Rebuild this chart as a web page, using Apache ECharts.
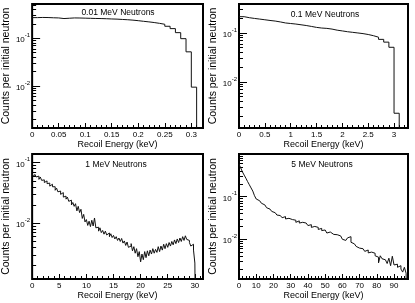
<!DOCTYPE html>
<html><head><meta charset="utf-8">
<script src="https://cdn.jsdelivr.net/npm/echarts@6/dist/echarts.min.js"></script>
<style>html,body{margin:0;padding:0;background:#fff}#c{width:415px;height:303px}</style>
</head><body><div id="c"></div>
<script>
// ---------------- data ----------------
const panelTitles = ['0.01 MeV Neutrons', '0.1 MeV Neutrons', '1 MeV Neutrons', '5 MeV Neutrons'];
const xTitle = 'Recoil Energy (keV)';
const yTitle = 'Counts per initial neutron';

// 0.01 MeV: bins of 0.01 keV starting at 0
const binWidth1 = 0.01;
const counts1 = [0.270,0.272,0.271,0.268,0.266,0.258,0.262,0.266,0.265,0.263,
  0.261,0.259,0.258,0.256,0.253,0.251,0.247,0.244,0.239,0.233,
  0.226,0.220,0.213,0.205,0.196,0.178,0.159,0.131,0.098,0.052,0.0095];

// 0.1 MeV: bins of 0.1 keV starting at 0
const binWidth2 = 0.1;
const counts2 = [0.215,0.205,0.198,0.192,0.186,0.180,0.175,0.168,0.160,0.156,
  0.152,0.147,0.142,0.136,0.130,0.126,0.124,0.120,0.114,0.110,
  0.106,0.103,0.100,0.097,0.093,0.088,0.082,0.074,0.065,0.051,0.0023];

// 1 MeV: bins of 0.25 keV starting at 0
const binWidth3 = 0.25;
const counts3 = [0.066,0.059,0.064,0.058, 0.060,0.053,0.058,0.051, 0.052,0.047,0.050,0.045,
  0.046,0.041,0.044,0.040, 0.040,0.035,0.038,0.033, 0.034,0.030,0.032,0.027,
  0.028,0.025,0.027,0.023, 0.024,0.020,0.022,0.019, 0.021,0.016,0.019,0.015,
  0.017,0.012,0.014,0.0105, 0.0115,0.0092,0.0108,0.0088, 0.0112,0.0090,0.0122,0.0084,
  0.0086,0.0074,0.0084,0.0070, 0.0076,0.0066,0.0074,0.0064, 0.0069,0.0060,0.0067,0.0058,
  0.0063,0.0055,0.0060,0.0052, 0.0057,0.0050,0.0056,0.0047, 0.0051,0.0043,0.0049,0.0040,
  0.0042,0.0046,0.0035,0.0041, 0.0032,0.0038,0.0028,0.0034, 0.0023,0.0031,0.0025,0.0034,
  0.0027,0.0035,0.0029,0.0036, 0.0031,0.0038,0.0032,0.0037, 0.0033,0.0041,0.0034,0.0042,
  0.0036,0.0045,0.0038,0.0046, 0.0040,0.0048,0.0042,0.0050, 0.0044,0.0053,0.0046,0.0055,
  0.0048,0.0057,0.0050,0.0060, 0.0052,0.0062,0.0054,0.0052, 0.0048,0.0042,0.0045,0.0036,
  0.0022];

// 5 MeV: bins of 1 keV starting at 0
const binWidth4 = 1;
const counts4 = [0.58,0.47,0.38,0.32,0.27,0.225,0.19,0.16,0.135,0.105,
  0.088,0.080,0.074,0.070,0.064,0.060,0.055,0.051,0.048,0.045,
  0.042,0.040,0.037,0.036,0.034,0.032,0.034,0.030,0.031,0.028,
  0.029,0.027,0.028,0.025,0.027,0.024,0.025,0.023,0.024,0.022,
  0.021,0.022,0.019,0.020,0.018,0.019,0.017,0.018,0.016,0.0165,
  0.015,0.014,0.0148,0.0135,0.013,0.0125,0.0128,0.0115,0.012,0.0108,
  0.0100,0.0094,0.0090,0.0108,0.0115,0.0085,0.0078,0.0072,0.0068,0.0062,
  0.0058,0.0060,0.0055,0.0052,0.0056,0.0048,0.0050,0.0045,0.0047,0.0041,
  0.0038,0.0028,0.0041,0.0035,0.0033,0.0030,0.0027,0.0036,0.0024,0.0040,
  0.0025,0.0026,0.0022,0.0024,0.0020,0.0017,0.0022,0.0016];

// axis ranges / ticks
const xRanges = [[0, 0.322], [0, 3.27], [0, 31.5], [0, 98.1]];
const xMajor = [0.05, 0.5, 5, 10];
const xMinor = [0.01, 0.1, 1, 2];
const yRanges = [[0.00133, 0.52], [0.00115, 0.39], [0.0012, 0.139], [0.00117, 1.0]];

const panels = [
  {w: binWidth1, c: counts1}, {w: binWidth2, c: counts2},
  {w: binWidth3, c: counts3}, {w: binWidth4, c: counts4}
];

// ---------------- layout ----------------
const FONT = 'Liberation Sans, Arial, Helvetica, sans-serif';
const grids = [
  {left: 31, top: 4, width: 172, height: 124},
  {left: 239, top: 4, width: 169, height: 124},
  {left: 31, top: 154, width: 172, height: 125},
  {left: 239, top: 154, width: 169, height: 125}
];
const titlePos = [[118, 13], [325, 15], [116, 165], [322, 165]];

function histPoints(w, c) {
  const pts = c.map((v, i) => [i * w, v]);
  pts.push([c.length * w, 1e-5]);
  return pts;
}
// log-axis minor tick positions (2..9 x 10^n) inside a range
function logMinorTicks(lo, hi) {
  const out = [];
  for (let n = Math.floor(Math.log10(lo)); n <= Math.ceil(Math.log10(hi)); n++) {
    for (let k = 2; k <= 9; k++) {
      const v = +(k * Math.pow(10, n)).toPrecision(6);
      if (v > lo && v < hi) out.push(v);
    }
  }
  return out;
}

const xAxes = [], yAxes = [], series = [];
grids.forEach((g, i) => {
  xAxes.push({
    type: 'value', gridIndex: i, position: 'bottom', min: xRanges[i][0], max: xRanges[i][1],
    interval: xMajor[i],
    axisLine: {show: false}, splitLine: {show: false},
    axisTick: {show: true, inside: true, length: 5, lineStyle: {color: '#000'}},
    axisLabel: {show: true, interval: 0, showMaxLabel: false, margin: 3, fontSize: 8, fontFamily: FONT, color: '#000'},
    name: xTitle, nameLocation: 'middle', nameGap: 12,
    nameTextStyle: {fontSize: 9, fontFamily: FONT, color: '#000'}
  });
  xAxes.push({
    type: 'value', gridIndex: i, position: 'bottom', min: xRanges[i][0], max: xRanges[i][1],
    interval: xMinor[i],
    axisLine: {show: false}, splitLine: {show: false},
    axisTick: {show: true, inside: true, length: 3, lineStyle: {color: '#000'}},
    axisLabel: {show: false}
  });
  yAxes.push({
    type: 'log', logBase: 10, gridIndex: i, position: 'left', min: yRanges[i][0], max: yRanges[i][1],
    axisLine: {show: false}, splitLine: {show: false},
    axisTick: {show: true, inside: true, length: 8, lineStyle: {color: '#000'}},
    axisLabel: {
      show: true, margin: 2, showMinLabel: false, showMaxLabel: false, fontFamily: FONT, color: '#000',
      formatter: function (v) {
        const l = Math.log10(v), r = Math.round(l);
        if (Math.abs(l - r) > 1e-6) return '';
        return '{b|10}{s|' + r + '}';
      },
      rich: {
        b: {fontSize: 8, fontFamily: FONT, color: '#000', lineHeight: 12, verticalAlign: 'bottom'},
        s: {fontSize: 6, fontFamily: FONT, color: '#000', lineHeight: 12, verticalAlign: 'top'}
      }
    },
    name: yTitle, nameLocation: 'middle', nameGap: 17,
    nameTextStyle: {fontSize: 10.5, fontFamily: FONT, color: '#000'}
  });
  yAxes.push({
    type: 'log', logBase: 10, gridIndex: i, position: 'left', min: yRanges[i][0], max: yRanges[i][1],
    axisLine: {show: false}, splitLine: {show: false},
    axisTick: {show: true, inside: true, length: 4, lineStyle: {color: '#000'},
      customValues: logMinorTicks(yRanges[i][0], yRanges[i][1])},
    axisLabel: {show: false}
  });
  series.push({
    type: 'line', xAxisIndex: 2 * i, yAxisIndex: 2 * i, step: 'end', symbol: 'none',
    clip: true, animation: false,
    lineStyle: {color: '#111', width: 1},
    data: histPoints(panels[i].w, panels[i].c)
  });
});

const chart = echarts.init(document.getElementById('c'), null, {renderer: 'canvas'});
chart.setOption({
  animation: false,
  backgroundColor: '#fff',
  grid: grids.map(g => Object.assign({show: true, borderColor: '#000', borderWidth: 2, backgroundColor: 'transparent', containLabel: false}, g)),
  xAxis: xAxes,
  yAxis: yAxes,
  series: series,
  graphic: panelTitles.map((t, i) => ({
    type: 'text', x: titlePos[i][0], y: titlePos[i][1], z: 10,
    style: {text: t, font: '8.5px ' + FONT, fill: '#000', textAlign: 'center', textVerticalAlign: 'middle'}
  }))
});
</script></body></html>
